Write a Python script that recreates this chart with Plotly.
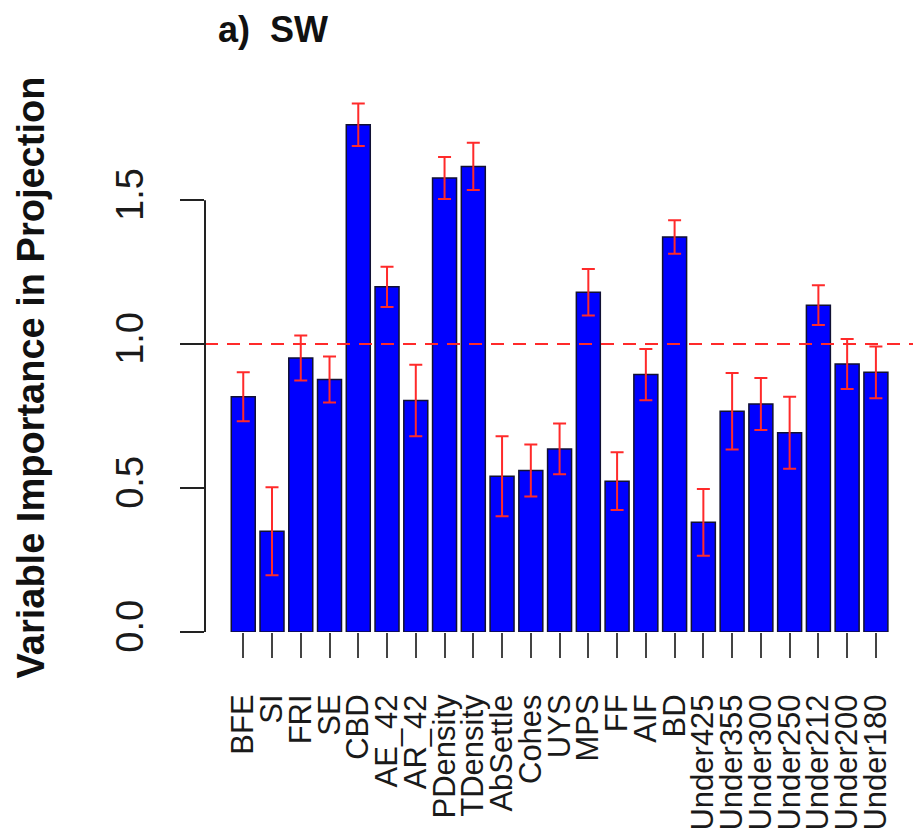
import plotly.graph_objects as go

# Variables and their VIP scores (mean) with error half-widths
variables = ["BFE", "SI", "FRI", "SE", "CBD", "AE_42", "AR_42", "PDensity",
             "TDensity", "AbSettle", "Cohes", "UYS", "MPS", "FF", "AIF", "BD",
             "Under425", "Under355", "Under300", "Under250", "Under212",
             "Under200", "Under180"]
vip = [0.817, 0.350, 0.952, 0.877, 1.762, 1.199, 0.804, 1.577,
       1.617, 0.541, 0.561, 0.636, 1.180, 0.524, 0.894, 1.372,
       0.381, 0.767, 0.792, 0.692, 1.135, 0.931, 0.902]
vip_err = [0.085, 0.153, 0.078, 0.080, 0.074, 0.070, 0.124, 0.073,
           0.082, 0.139, 0.090, 0.088, 0.081, 0.100, 0.089, 0.058,
           0.116, 0.133, 0.090, 0.125, 0.069, 0.087, 0.090]
y_ticks = [0.0, 0.5, 1.0, 1.5]
y_tick_text = ["0.0", "0.5", "1.0", "1.5"]
threshold = 1.0

FONT = "Liberation Sans, Arial, Helvetica, sans-serif"

fig = go.Figure()
fig.add_trace(go.Bar(
    x=variables,
    y=vip,
    marker=dict(color="#0000ff", line=dict(color="#111133", width=1.5)),
    error_y=dict(type="data", array=vip_err, visible=True,
                 color="#ff2a2a", thickness=2, width=6.5),
    showlegend=False,
))

# reference line at VIP = 1
fig.add_shape(type="line", xref="paper", yref="y", x0=0, x1=1,
              y0=threshold, y1=threshold,
              line=dict(color="#ff2a2a", width=2, dash="13px,9px"))

# left axis line spanning the labelled ticks only
fig.add_shape(type="line", xref="paper", yref="y", x0=0, x1=0,
              y0=y_ticks[0], y1=y_ticks[-1],
              line=dict(color="#222222", width=2))

fig.add_annotation(text="<b>a)\u00a0\u00a0SW</b>", xref="paper", yref="paper",
                   x=0.016, y=1.102, xanchor="left", yanchor="middle",
                   showarrow=False, font=dict(family=FONT, size=36, color="#111111"))

fig.add_annotation(text="<b>Variable Importance in Projection</b>",
                   xref="paper", yref="paper", x=-0.246, y=0.465,
                   xanchor="center", yanchor="middle", textangle=-90,
                   showarrow=False, font=dict(family=FONT, size=38, color="#111111"))

fig.update_layout(
    width=913, height=839,
    margin=dict(l=205, r=0, t=85, b=207),
    paper_bgcolor="white", plot_bgcolor="white",
    bargap=0.166,
    font=dict(family=FONT, color="#1a1a1a"),
    xaxis=dict(
        range=[-1.33, 23.29],
        tickmode="array", tickvals=variables, ticktext=variables,
        showgrid=False, zeroline=False, showline=False,
        ticks="outside", ticklen=25, tickwidth=2, tickcolor="#444444",
        tickangle=-90, tickfont=dict(family=FONT, size=31, color="#1a1a1a"),
        ticklabelstandoff=24,
    ),
    yaxis=dict(
        range=[0, 1.9],
        tickvals=y_ticks, ticktext=y_tick_text,
        showgrid=False, zeroline=False, showline=False,
        ticks="outside", ticklen=24, tickwidth=2, tickcolor="#222222",
        tickangle=-90, tickfont=dict(family=FONT, size=38, color="#1a1a1a"),
        ticklabelstandoff=22,
    ),
)

fig.write_html("out.html")
